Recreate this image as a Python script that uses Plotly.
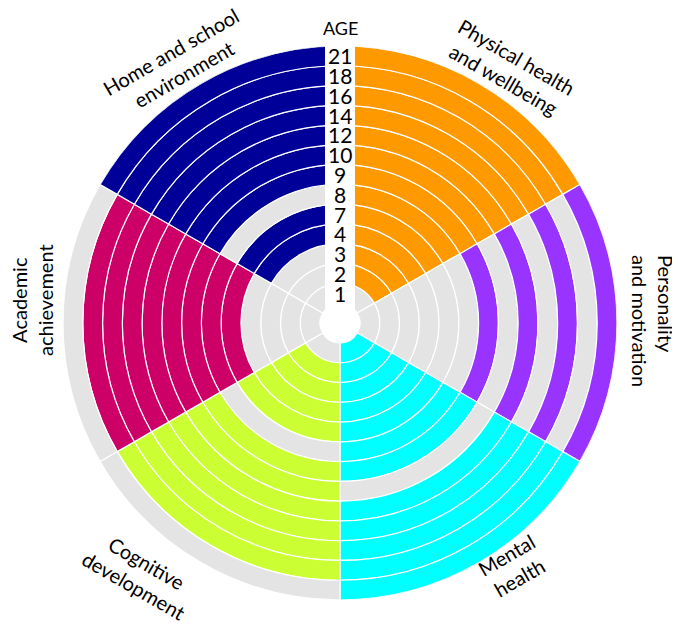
import plotly.graph_objects as go

# ---------------- data ----------------
AGES = ["1", "2", "3", "4", "7", "8", "9", "10", "12", "14", "16", "18", "21"]

CATEGORIES = [
    "Physical health<br>and wellbeing",
    "Personality<br>and motivation",
    "Mental<br>health",
    "Cognitive<br>development",
    "Academic<br>achievement",
    "Home and school<br>environment",
]

physical_ages = ["2", "3", "4", "7", "8", "9", "10", "12", "14", "16", "18", "21"]
personality_ages = ["9", "12", "16", "21"]
mental_ages = ["1", "2", "3", "4", "7", "8", "9", "12", "14", "16", "18", "21"]
cognitive_ages = ["2", "3", "4", "7", "9", "10", "12", "14", "16", "18"]
academic_ages = ["7", "8", "9", "10", "12", "14", "16", "18"]
home_ages = ["4", "7", "9", "10", "12", "14", "16", "18", "21"]

COVERAGE = [physical_ages, personality_ages, mental_ages,
            cognitive_ages, academic_ages, home_ages]

# ---------------- style ----------------
COLORS = ["#FF9900", "#9933FF", "#00FFFF", "#CCFF33", "#CC0066", "#000099"]
GRAY = "#E4E4E4"
FONT = "Lato, 'Open Sans', sans-serif"

W, H = 680, 635
OFF = 8                    # page body margin offset
CX, CY = 340, 323          # pixel centre of the circle (window coords)
R_OUT, R_IN = 277, 20      # outer radius, hole radius
n_rings = len(AGES)
ring_w = (R_OUT - R_IN) / n_rings
sector_w = 360 / len(CATEGORIES)


def px(x):
    return (x - OFF) / W


def py(y):
    return (H - (y - OFF)) / H


fig = go.Figure()
for i, (cat, ages_cov, col) in enumerate(zip(CATEGORIES, COVERAGE, COLORS)):
    centre = sector_w * (i + 0.5)
    fig.add_trace(go.Barpolar(
        r=[1] * n_rings,
        base=list(range(n_rings)),
        theta=[centre] * n_rings,
        width=[sector_w] * n_rings,
        marker=dict(color=[col if a in ages_cov else GRAY for a in AGES],
                    line=dict(color="white", width=1.2)),
        name=cat.replace("<br>", " "),
        hoverinfo="name",
        showlegend=False,
    ))

fig.update_layout(
    width=W, height=H,
    margin=dict(l=0, r=0, t=0, b=0),
    paper_bgcolor="white",
    plot_bgcolor="white",
    font=dict(family=FONT, color="black"),
    polar=dict(
        domain=dict(x=[px(CX - R_OUT), px(CX + R_OUT)],
                    y=[py(CY + R_OUT), py(CY - R_OUT)]),
        bgcolor="white",
        hole=R_IN / R_OUT,
        barmode="overlay",
        radialaxis=dict(range=[0, n_rings], visible=False, showgrid=False),
        angularaxis=dict(direction="clockwise", rotation=90, visible=False,
                         showgrid=False),
    ),
)

# white vertical strip carrying the age labels
fig.add_shape(type="rect", xref="paper", yref="paper",
              x0=px(CX - 15), x1=px(CX + 15),
              y0=py(CY), y1=py(CY - R_OUT - 4),
              fillcolor="white", line=dict(width=0), layer="above")

# age labels along the strip
for k, a in enumerate(AGES):
    ypx = CY - (R_IN + ring_w * (k + 0.5))
    fig.add_annotation(x=px(CX), y=py(ypx), xref="paper", yref="paper",
                       text=a, showarrow=False,
                       font=dict(size=21, family=FONT, color="black"),
                       xanchor="center", yanchor="middle")

fig.add_annotation(x=px(CX), y=py(28), xref="paper", yref="paper",
                   text="AGE", showarrow=False,
                   font=dict(size=18, family=FONT, color="black"),
                   xanchor="center", yanchor="middle")

# category labels around the ring
label_pos = [
    (510, 68, 30, "center"),
    (653, 321, 90, "left"),
    (513, 566, -30, "center"),
    (140, 574, 30, "center"),
    (32, 300, -90, "center"),
    (177, 63, -30, "center"),
]
for cat, (lx, ly, ang, al) in zip(CATEGORIES, label_pos):
    fig.add_annotation(x=px(lx), y=py(ly), xref="paper", yref="paper",
                       text=cat, showarrow=False, textangle=ang, align=al,
                       font=dict(size=20, family=FONT, color="black"),
                       xanchor="center", yanchor="middle")

fig.write_html("out.html")
